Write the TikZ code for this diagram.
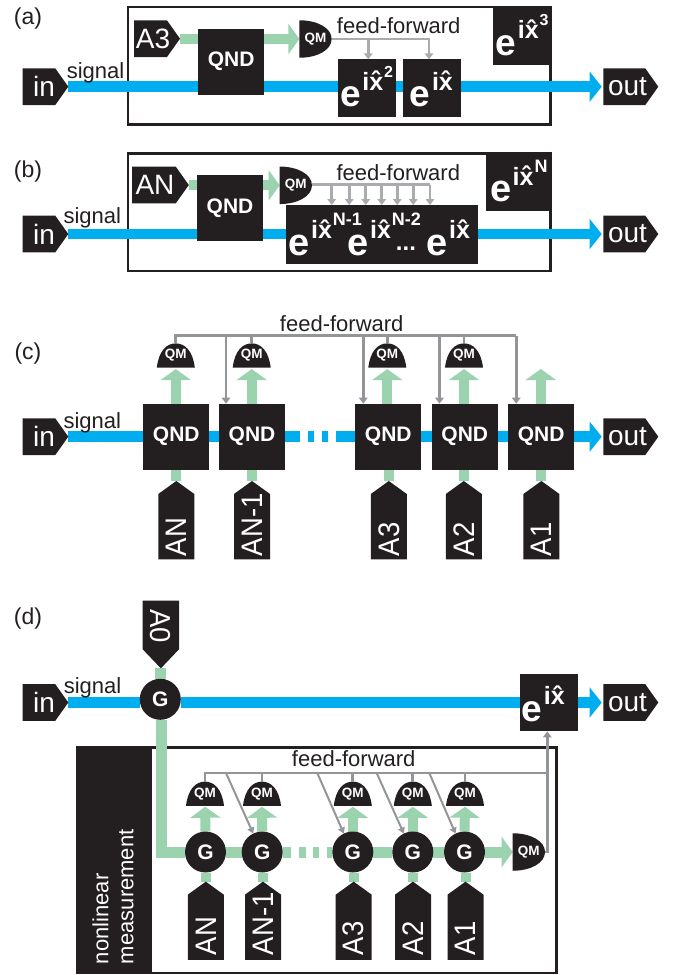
\documentclass[tikz,border=0pt]{standalone}
\usepackage{fontspec}
\setmainfont{Liberation Sans}
\usetikzlibrary{arrows.meta}
\pgfdeclarelayer{back}
\pgfdeclarelayer{wire}
\pgfsetlayers{back,wire,main}
\definecolor{ink}{HTML}{231F20}
\definecolor{sigblue}{HTML}{00AEEF}
\definecolor{ancgreen}{HTML}{9BD3AE}
\definecolor{ffgray}{HTML}{939598}
\definecolor{fflight}{HTML}{A9ABAE}
\newcommand{\fs}[1]{\fontsize{#1}{#1}\selectfont}
\newcommand{\eE}[1][37]{{\fs{#1}e}}
\newcommand{\eX}[2][16]{\kern1.5pt\raisebox{16.7pt}{\fs{25}i\^x\kern1pt\raisebox{12.4pt}{\fs{#1}#2}}}
\newcommand{\upA}[1]{\rotatebox{90}{\scalebox{1}[1.08]{\makebox[71.7pt][l]{#1}}}}
\newcommand{\upB}[1]{\rotatebox{90}{\scalebox{1}[1.08]{\makebox[68.4pt][l]{#1}}}}
\tikzset{
  every node/.style={inner sep=0pt,outer sep=0pt},
  txt/.style={font=\fs{22},text=ink},
  lab/.style={font=\fs{23},text=ink},
  blk/.style={fill=ink,text=white,minimum width=66pt,minimum height=66pt,font=\fs{21}\bfseries},
  ebox/.style n args={3}{fill=ink,text=white,font=\bfseries,minimum width=#1,minimum height=#2,text height=#3,text depth=6pt},
  gate/.style={circle,fill=ink,text=white,minimum size=41pt,font=\fs{21}\bfseries},
  penR/.style={minimum width=#1,minimum height=36.6pt,text=white,font=\fs{28},
    path picture={\fill[ink] (path picture bounding box.north west) -- ([xshift=-13pt]path picture bounding box.north east) -- (path picture bounding box.east) -- ([xshift=-13pt]path picture bounding box.south east) -- (path picture bounding box.south west) -- cycle;}},
  penU/.style={minimum width=36pt,minimum height=78.3pt,text=white,font=\fs{27.5},
    path picture={\fill[ink] (path picture bounding box.south west) -- ([yshift=-13pt]path picture bounding box.north west) -- (path picture bounding box.north) -- ([yshift=-13pt]path picture bounding box.north east) -- (path picture bounding box.south east) -- cycle;}},
  penD/.style={minimum width=36.3pt,minimum height=67.6pt,text=white,font=\fs{27.5},
    path picture={\fill[ink] (path picture bounding box.north west) -- (path picture bounding box.north east) -- ([yshift=19pt]path picture bounding box.south east) -- (path picture bounding box.south) -- ([yshift=19pt]path picture bounding box.south west) -- cycle;}},
  qmR/.style={minimum width=32.3pt,minimum height=37.5pt,text=white,font=\fs{13.5}\bfseries,
    path picture={\fill[ink] (path picture bounding box.north west) .. controls ([xshift=18pt]path picture bounding box.north west) and ([yshift=11pt]path picture bounding box.east) .. (path picture bounding box.east) .. controls ([yshift=-11pt]path picture bounding box.east) and ([xshift=18pt]path picture bounding box.south west) .. (path picture bounding box.south west) -- cycle;}},
  qmU/.style={minimum width=38pt,minimum height=24.2pt,text=white,font=\fs{13.5}\bfseries,
    path picture={\fill[ink] (path picture bounding box.south west) .. controls ([shift={(2pt,17pt)}]path picture bounding box.south west) and ([xshift=-9pt]path picture bounding box.north) .. (path picture bounding box.north) .. controls ([xshift=9pt]path picture bounding box.north) and ([shift={(-2pt,17pt)}]path picture bounding box.south east) .. (path picture bounding box.south east) -- cycle;}},
  frame/.style={draw=ink,line width=2.7pt},
  bluew/.style={draw=sigblue,line width=10.7pt},
  bluea/.style={bluew,-{Triangle[length=12pt,width=29.5pt]},shorten >=1.6pt},
  greenw/.style={draw=ancgreen,line width=10pt},
  greena/.style={greenw,-{Triangle[length=11pt,width=30pt]}},
  ffl/.style={draw=ffgray,line width=2.8pt},
  ffa/.style={ffl,-{Triangle[length=6pt,width=8.5pt]}},
  ffs/.style={draw=ffgray,line width=2pt,-{Triangle[length=6pt,width=7pt]}},
}
\begin{document}
\begin{tikzpicture}[x=1pt,y=-1pt]
\useasboundingbox (0,0) rectangle (673,975);
% ---------- (a)
\node[lab] (la) at (28,19) {(a)};
\begin{pgfonlayer}{back}
\node[frame,minimum width=422.3pt,minimum height=117.6pt] (fa) at (339.15,65.8) {};
\end{pgfonlayer}
\node[penR=45.6pt] (ina) at (45.5,86.7) {in\kern3pt};
\node[penR=55pt] (outa) at (630.8,86.7) {out\kern6.6pt};
\node[txt,anchor=base] (siga) at (95.5,78) {signal};
\node[penR=46pt] (aa) at (157,38.7) {A3\kern8pt};
\node[blk] (qa) at (231.2,61.5) {QND};
\node[qmR] (ma) at (315.5,39) {QM};
\node[txt,anchor=base] (ffta) at (398.7,33.3) {feed-forward};
\node[ebox={58pt}{57.4pt}{43.4pt}] (e2a) at (366.7,88) {\eE\eX{2}};
\node[ebox={57.7pt}{57.4pt}{43.4pt}] (e1a) at (431.9,88) {\eE\eX{}};
\node[ebox={59pt}{59pt}{45.6pt}] (e3a) at (522.2,35.2) {\eE\eX{3}};
\begin{pgfonlayer}{wire}
\draw[bluea] (ina.east) -- (outa.west);
\draw[greenw] (aa.east) -- (qa.west |- aa.east);
\draw[greena] (qa.east |- ma.west) -- (ma.west);
\end{pgfonlayer}
\draw[ffa,draw=fflight] (ma.east) -| ([xshift=-2.9pt]e1a.north);
\draw[ffa,draw=fflight] ([xshift=1.6pt]e2a.north |- ma.east) -- ([xshift=1.6pt]e2a.north);
% ---------- (b)
\node[lab] (lb) at (28,171.5) {(b)};
\begin{pgfonlayer}{back}
\node[frame,minimum width=422.3pt,minimum height=117.6pt] (fb) at (339.15,212.2) {};
\end{pgfonlayer}
\node[penR=45.6pt] (inb) at (45.5,234) {in\kern3pt};
\node[penR=55pt] (outb) at (630.8,234) {out\kern6.6pt};
\node[txt,anchor=base] (sigb) at (92.3,223) {signal};
\node[penR=56.6pt] (ab) at (160.5,185) {AN\kern11pt};
\node[blk] (qb) at (230,207.8) {QND};
\node[qmR] (mb) at (295.8,185.3) {QM};
\node[txt,anchor=base] (fftb) at (398.3,180.7) {feed-forward};
\node[ebox={192.3pt}{59.3pt}{46.6pt}] (ebig) at (382.2,234.7) {\eE[38]\eX[18]{N-1}\kern-14.5pt\eE[38]\eX[18]{N-2}\kern-25pt\raisebox{5pt}{\fs{24}...}\kern10.5pt\eE[38]\eX{}\kern5pt};
\node[ebox={65.7pt}{58.6pt}{45.6pt}] (eNb) at (518.85,181.9) {\eE[38]\eX[18]{N}};
\begin{pgfonlayer}{wire}
\draw[bluea] (inb.east) -- (outb.west);
\draw[greenw] (ab.east) -- (qb.west |- ab.east);
\draw[greena] (qb.east |- mb.west) -- (mb.west);
\end{pgfonlayer}
\coordinate (ffb) at (430,184.7);
\draw[ffl,draw=fflight] (mb.east |- ffb) -- (ffb);
\foreach \x in {331.7,349.3,365.7,381.7,397.3,413.3,430}
  \draw[ffa,draw=fflight] (\x,184 |- ffb) -- (\x,184 |- ebig.north);
% ---------- (c)
\node[lab] (lc) at (28,354) {(c)};
\node[penR=45.6pt] (inc) at (45.5,436.7) {in\kern3pt};
\node[penR=55pt] (outc) at (630.8,436.7) {out\kern6.6pt};
\node[txt,anchor=base] (sigc) at (92.3,428) {signal};
\node[txt,anchor=base] (fftc) at (341.7,331.7) {feed-forward};
\foreach \n/\x in {1/176.3,2/252,3/388.25,4/464.8,5/541.2}
  \node[blk] (q\n) at (\x,436.7) {QND};
\foreach \n/\x/\t in {1/176.3/AN,2/252/AN-1,3/388.8/A3,4/463.8/A2,5/541.4/A1}
  \node[penU] (c\n) at (\x,520.15) {\upA{\t}};
\foreach \n/\x in {1/175.8,2/251.7,3/387.3,4/464}
  \node[qmU] (m\n) at (\x,355.5) {\raisebox{-4.5pt}{QM}};
\coordinate (t5) at (540.8,369);
\coordinate (ffc) at (516.2,335.8);
\begin{pgfonlayer}{wire}
\draw[bluew] (inc.east) -- (q1.west);
\draw[bluew] (q1.east) -- (q2.west);
\draw[bluew,dash pattern=on 15pt off 7.7pt on 6.6pt off 7.4pt on 6.6pt off 7.7pt on 19pt] (q2.east) -- (q3.west);
\draw[bluew] (q3.east) -- (q4.west);
\draw[bluew] (q4.east) -- (q5.west);
\draw[bluea] (q5.east) -- (outc.west);
\foreach \n in {1,2,3,4,5} \draw[greenw] (c\n.north) -- (c\n.north |- q\n.south);
\foreach \n in {1,2,3,4} \draw[greena,shorten >=1.5pt] (m\n.south |- q\n.north) -- (m\n.south);
\draw[greena] (t5 |- q5.north) -- (t5);
\end{pgfonlayer}
\draw[ffl] (m1.north) |- (ffc);
\foreach \n in {2,3,4} \draw[ffl] (m\n.north) -- (m\n.north |- ffc);
\draw[ffa] (ffc) -- ([xshift=8pt]q5.north west);
\foreach \n/\d in {2/7,3/8,4/7.7}
  \draw[ffa] ([xshift=\d pt]q\n.north west |- ffc) -- ([xshift=\d pt]q\n.north west);
% ---------- (d)
\node[lab] (ld) at (28,619) {(d)};
\begin{pgfonlayer}{back}
\node[minimum width=75.5pt,minimum height=228pt,fill=ink] (nlb) at (113.75,860) {};
\node[frame,minimum width=479pt,minimum height=225.7pt] (fd) at (316.8,860.15) {};
\end{pgfonlayer}
\node[txt,text=white,rotate=90,anchor=west,align=left,text width=180pt] (nlt) at (113,964) {nonlinear\\[3pt]measurement};
\node[penR=45.6pt] (ind) at (45.5,702.5) {in\kern3pt};
\node[penR=55pt] (outd) at (630.8,702.5) {out\kern6.6pt};
\node[txt,anchor=base] (sigd) at (92.5,693.3) {signal};
\node[penD] (a0) at (160.85,634.5) {\rotatebox{-90}{\scalebox{1}[1.05]{\makebox[51pt][l]{A0}}}};
\node[gate] (g0) at (160.3,699.3) {G};
\node[ebox={58pt}{57.7pt}{43.8pt}] (ed) at (549.3,702.5) {\eE\eX{}\kern11pt};
\node[txt,anchor=base] (fftd) at (353.7,766.7) {feed-forward};
\foreach \n/\x in {1/205.5,2/262.2,3/352.8,4/412.8,5/464.5}
  \node[gate] (g\n) at (\x,852) {G};
\foreach \n/\x/\t in {1/205.8/AN,2/263/AN-1,3/353.7/A3,4/413/A2,5/465.5/A1}
  \node[penU] (d\n) at (\x,920.8) {\upB{\t}};
\foreach \n/\x in {1/205,2/262,3/352.8,4/412.8,5/465}
  \node[qmU] (n\n) at (\x,793.7) {\raisebox{-3pt}{QM}};
\node[qmR] (me) at (528.85,852) {QM};
\coordinate (ffd) at (547.3,773);
\coordinate (s2) at (226,773);
\coordinate (s3) at (317.3,773);
\coordinate (s4) at (376.7,773);
\coordinate (s5) at (429.3,773);
\begin{pgfonlayer}{wire}
\draw[bluew] (ind.east) -- (g0.west |- ind.east);
\draw[bluew] (g0.east |- ed.west) -- (ed.west);
\draw[bluea] (ed.east) -- (outd.west);
\draw[greenw,line width=11pt] (a0.south) -- (a0.south |- g0.north);
\draw[greenw,line width=11pt] ([xshift=1.4pt]g0.south) |- (g1.west);
\draw[greenw,line width=11pt] (g1.east) -- (g2.west);
\draw[greenw,line width=11pt,dash pattern=on 8pt off 8.6pt on 6.7pt off 7.3pt on 5.7pt off 8.3pt on 5pt] (g2.east) -- (g3.west);
\draw[greenw,line width=11pt] (g3.east) -- (g4.west);
\draw[greenw,line width=11pt] (g4.east) -- (g5.west);
\draw[greena,line width=11pt] (g5.east) -- (me.west);
\foreach \n in {1,2,3,4,5} {
  \draw[greenw] (d\n.north) -- (d\n.north |- g\n.south);
  \draw[greena,shorten >=1pt] (g\n.north) -- (n\n.south);
}
\end{pgfonlayer}
\draw[ffl] (n1.north) |- (ffd);
\foreach \n in {2,3,4,5} \draw[ffl] (n\n.north) -- (n\n.north |- ffd);
\draw[ffa] (me.east) -| ([xshift=-2pt]ed.south);
\foreach \n in {2,3,4,5} \draw[ffs] (s\n) -- (g\n.116);
\end{tikzpicture}
\end{document}
